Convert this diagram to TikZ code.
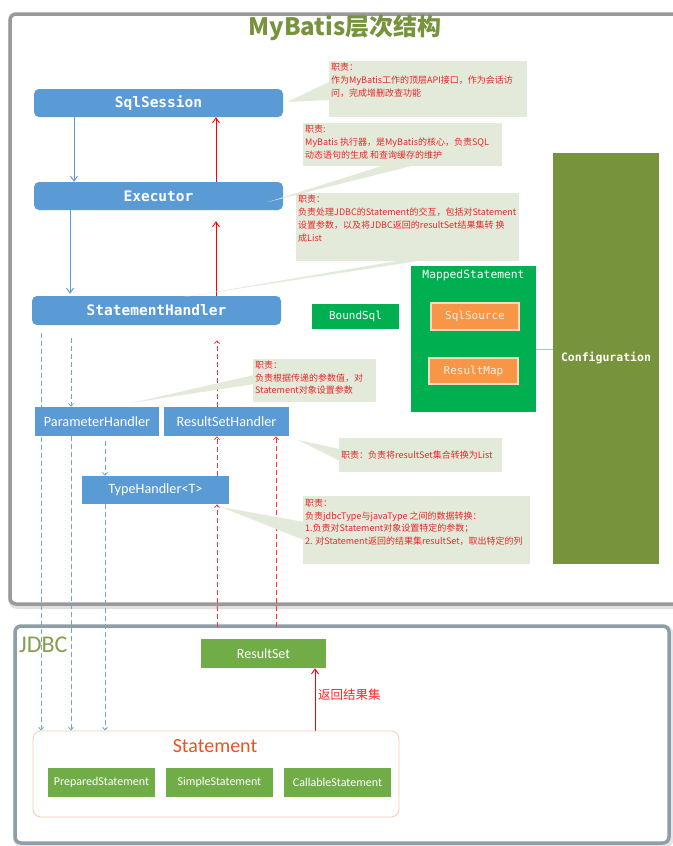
\documentclass[tikz,border=0pt]{standalone}
\usepackage{fontspec}
\setmainfont{Carlito}
\newfontfamily\cjk{Noto Sans CJK SC}
\newfontfamily\mono{DejaVu Sans Mono}
\usetikzlibrary{arrows.meta,calc}
\definecolor{bluebox}{HTML}{5B9BD5}
\definecolor{olive}{HTML}{77933C}
\definecolor{gbright}{HTML}{00B050}
\definecolor{gstmt}{HTML}{70AD47}
\definecolor{orng}{HTML}{F79646}
\definecolor{callbg}{HTML}{E3EAD9}
\definecolor{calltxt}{HTML}{E8262A}
\definecolor{frametop}{HTML}{9A9A9A}
\definecolor{framejdbc}{HTML}{8E9EA6}
\definecolor{stmtorange}{HTML}{E6561E}
\definecolor{stmtborder}{HTML}{F8CBAD}
\pgfdeclarelayer{bgzero}
\pgfdeclarelayer{bgone}
\pgfsetlayers{bgzero,bgone,main}
\tikzset{
  bluerbox/.style={fill=bluebox, rounded corners=5pt, text=white, font=\mono\bfseries\fontsize{14.5}{16}\selectfont, inner sep=0pt},
  handlerbox/.style={fill=bluebox, text=white, font=\fontsize{14.2}{15}\selectfont, inner sep=0pt},
  greenbox/.style={fill=gbright, text=white, font=\mono\fontsize{11}{13}\selectfont, inner sep=0pt},
  orangebox/.style={fill=orng, draw=orng!35!white, line width=1.2pt, text=orng!15!white, font=\mono\fontsize{11}{13}\selectfont, inner sep=0pt},
  stmtbox/.style={fill=gstmt, text=white, font=\fontsize{12}{14}\selectfont, inner sep=0pt},
  calloutbox/.style={fill=callbg, draw=none},
  callouttext/.style={anchor=north west, inner sep=0pt, align=left, text=calltxt, font=\cjk\fontsize{9}{13}\selectfont},
  solidblue/.style={draw=bluebox, line width=0.9pt, -{Straight Barb[length=5pt,width=7pt]}},
  solidred/.style={draw=red, line width=0.9pt, -{Straight Barb[length=5pt,width=7pt]}},
  dashblue/.style={draw=bluebox!90!white, line width=0.7pt, dash pattern=on 5pt off 3pt, -{Straight Barb[length=3pt,width=5pt]}},
  dashred/.style={draw=red!80!white, line width=0.7pt, dash pattern=on 5pt off 3pt, -{Straight Barb[length=3pt,width=5pt]}},
}
\begin{document}
\begin{tikzpicture}[x=1pt,y=-1pt]
\useasboundingbox (0,0) rectangle (672,846);
\clip (0,0) rectangle (672,846);

% ---------- frames ----------
\begin{pgfonlayer}{bgzero}
\fill[white] (0,0) rectangle (672,846);
\draw[line width=6pt, black!12, rounded corners=7pt] (11,16) rectangle (700,606);
\draw[line width=3.5pt, frametop, fill=white, rounded corners=6pt] (10,14) rectangle (700,604);
\draw[line width=6pt, black!10, rounded corners=7pt] (16,628) rectangle (671,845);
\draw[line width=3.5pt, framejdbc, fill=white, rounded corners=6pt] (15,626) rectangle (669,843);
\end{pgfonlayer}

% ---------- title ----------
\node[text=olive, font=\cjk\bfseries\fontsize{24}{28}\selectfont, inner sep=0pt] (title) at (345,28) {MyBatis层次结构};
\node[text=olive!90!white, font=\fontsize{24}{28}\selectfont, anchor=west, inner sep=0pt] (jdbc) at (19,645) {JDBC};

% ---------- main blue boxes ----------
\node[bluerbox, minimum width=249pt, minimum height=28pt] (ss) at (158.5,103) {SqlSession};
\node[bluerbox, minimum width=249pt, minimum height=28pt] (ex) at (158.5,196) {Executor};
\node[bluerbox, minimum width=249pt, minimum height=29pt] (sh) at (156.5,310.5) {StatementHandler};

% ---------- handlers ----------
\node[handlerbox, minimum width=124pt, minimum height=29pt] (ph) at (97,421.5) {ParameterHandler};
\node[handlerbox, minimum width=125pt, minimum height=29pt] (rsh) at (226.5,421.5) {ResultSetHandler};
\node[handlerbox, minimum width=147pt, minimum height=28pt] (th) at (155.5,490) {TypeHandler<T>};

% ---------- mapped statement / configuration ----------
\node[greenbox, minimum width=87pt, minimum height=25pt] (bsql) at (355.5,316.5) {BoundSql};
\node[fill=gbright, minimum width=125pt, minimum height=146pt, inner sep=0pt] (ms) at (473.5,339) {};
\node[text=white, font=\mono\fontsize{11.3}{13}\selectfont, inner sep=0pt] (mslabel) at (473.5,275) {MappedStatement};
\node[orangebox, minimum width=88pt, minimum height=27pt] (src) at (475,316.5) {SqlSource};
\node[orangebox, minimum width=89pt, minimum height=26pt] (rmap) at (473.5,371) {ResultMap};
\node[fill=olive, text=white, font=\mono\bfseries\fontsize{11.5}{13}\selectfont, minimum width=106pt, minimum height=411pt, inner sep=0pt] (conf) at (606,358.5) {Configuration};

% ---------- JDBC part ----------
\node[stmtbox, font=\fontsize{14}{16}\selectfont, minimum width=125pt, minimum height=29pt] (rs) at (263.5,653.5) {ResultSet};
\node[draw=stmtborder, line width=0.8pt, fill=white, rounded corners=8pt, minimum width=366pt, minimum height=86pt, inner sep=0pt] (stmt) at (216,774) {};
\node[text=stmtorange, font=\fontsize{20}{22}\selectfont, inner sep=0pt] (stmttitle) at (215,746) {Statement};
\node[stmtbox, minimum width=107pt, minimum height=29pt] (prep) at (101.5,782.5) {PreparedStatement};
\node[stmtbox, minimum width=107pt, minimum height=29pt] (simp) at (219.5,782.5) {SimpleStatement};
\node[stmtbox, minimum width=107pt, minimum height=29pt] (call) at (337.5,782.5) {CallableStatement};

% column coordinates
\coordinate (xa) at (74,0);
\coordinate (xb) at (70,0);
\coordinate (xr) at (216,0);
\coordinate (xd1) at (41,0);
\coordinate (xd2) at (71,0);
\coordinate (xd3) at (105,0);
\coordinate (xr1) at (217,0);
\coordinate (xr2) at (276,0);
\coordinate (xrs) at (315,0);

% ---------- connectors ----------
\begin{pgfonlayer}{bgone}
\draw[solidblue] (ss.south -| xa) -- (ex.north -| xa);
\draw[solidblue] (ex.south -| xb) -- ([yshift=2pt]sh.north -| xb);
\draw[solidred] (ex.north -| xr) -- (ss.south -| xr);
\draw[solidred] (sh.north -| xr) -- ([yshift=-11pt]ex.south -| xr);
% blue dashed
\draw[dashblue] ([yshift=-8pt]sh.south -| xd1) -- (stmt.north -| xd1);
\draw[dashblue] ([yshift=-13pt]sh.south -| xd2) -- (ph.north -| xd2);
\draw[dashblue] (ph.south -| xd2) -- (stmt.north -| xd2);
\draw[dashblue] ([yshift=-5pt]ph.south -| xd3) -- (th.north -| xd3);
\draw[dashblue] (th.south -| xd3) -- (stmt.north -| xd3);
% red dashed
\draw[dashred] (rsh.north -| xr1) -- ([yshift=-15pt]sh.south -| xr1);
\draw[dashred] (th.north -| xr1) -- (rsh.south -| xr1);
\draw[dashred] ([yshift=12pt]rs.north -| xr1) -- (th.south -| xr1);
\draw[dashred] ([yshift=12pt]rs.north -| xr2) -- (rsh.south -| xr2);
% misc
\draw[draw=bluebox!60!white, line width=1pt] (ms.east |- 0,349) -- (conf.west |- 0,349);
\draw[solidred] (stmt.north -| xrs) -- (rs.south -| xrs);
\end{pgfonlayer}
\node[anchor=west, text=red!85!white, font=\cjk\fontsize{12.5}{14}\selectfont, inner sep=0pt] (retlabel) at (318,695) {返回结果集};

% ---------- callouts ----------
% 1
\fill[callbg] (329,82) -- (287,102) -- (329,100) -- cycle;
\fill[calloutbox] (329,61) rectangle (527,117);
\node[callouttext] (t1) at (331,63) {职责：\\作为MyBatis工作的顶层API接口，作为会话访\\问，完成增删改查功能};
% 2
\fill[callbg] (385,165) -- (268,202) -- (415,165) -- cycle;
\fill[calloutbox] (303,123) rectangle (502,166);
\node[callouttext] (t2) at (305,125) {职责:\\MyBatis 执行器，是MyBatis的核心，负责SQL\\动态语句的生成 和查询缓存的维护};
% 3
\fill[callbg] (403,260) -- (184,297) -- (425,260) -- cycle;
\fill[calloutbox] (296,193) rectangle (519,261);
\node[callouttext] (t3) at (298,195) {职责：\\负责处理JDBC的Statement的交互，包括对Statement\\设置参数，以及将JDBC返回的resultSet结果集转 换\\成List};
% 4
\fill[callbg] (254,375) -- (131,403) -- (254,384) -- cycle;
\fill[calloutbox] (253,359) rectangle (376,402);
\node[callouttext, font=\cjk\fontsize{9}{12.5}\selectfont] (t4) at (255,361) {职责：\\负责根据传递的参数值，对\\Statement对象设置参数};
% 5
\fill[callbg] (340,449) -- (298,440) -- (340,461) -- cycle;
\fill[calloutbox] (339,438) rectangle (502,472);
\node[callouttext, anchor=west] (t5) at (341,455) {职责：负责将resultSet集合转换为List};
% 6
\fill[callbg] (304,522) -- (221,507) -- (304,540) -- cycle;
\fill[calloutbox] (303,496) rectangle (530,564);
\node[callouttext, font=\cjk\fontsize{9}{12.5}\selectfont] (t6) at (305,499) {职责：\\负责jdbcType与javaType 之间的数据转换：\\1.负责对Statement对象设置特定的参数；\\2. 对Statement返回的结果集resultSet，取出特定的列};
\end{tikzpicture}
\end{document}
